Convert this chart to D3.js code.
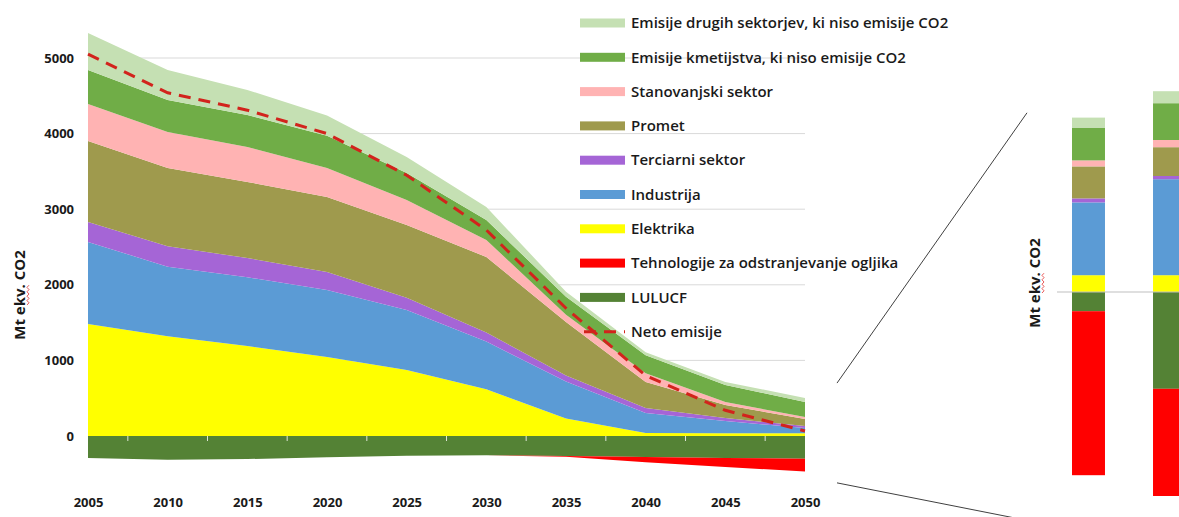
<!DOCTYPE html>
<html>
<head>
<meta charset="utf-8">
<script src="https://cdn.jsdelivr.net/npm/d3@7/dist/d3.min.js"></script>
<style>
  body { margin: 0; background: #fff; }
  svg { display: block; font-family: "Open Sans", sans-serif; }
</style>
</head>
<body>
<svg width="1179" height="517"></svg>
<script>
// values, Mt ekv. CO2
var years = [2005, 2010, 2015, 2020, 2025, 2030, 2035, 2040, 2045, 2050];
var elektrika    = [1480, 1320, 1190, 1045, 873, 620, 230, 40, 35, 35];
var industrija   = [1086, 920, 910, 885, 794, 630, 490, 264, 163, 71];
var terciarni    = [265, 270, 254, 240, 163, 120, 80, 66, 40, 26];
var promet       = [1071, 1035, 1006, 991, 960, 998, 708, 344, 172, 93];
var stanovanjski = [489, 476, 463, 384, 332, 225, 95, 115, 40, 26];
var kmetijstvo   = [450, 423, 423, 425, 357, 264, 239, 238, 225, 199];
var drugi        = [489, 397, 331, 270, 211, 172, 66, 40, 39, 53];
var lulucf       = [-290, -315, -305, -280, -260, -255, -265, -278, -290, -300];
var odstranjevanje = [0, 0, 0, 0, 0, 0, -8, -70, -120, -170];
var neto         = [5050, 4540, 4310, 4000, 3450, 2725, 1690, 800, 340, 66];

var yTicks = [0, 1000, 2000, 3000, 4000, 5000];

// zoomed-in bars on the right (two bars, no axis shown)
var insetBars = ["A", "B"];
var insetElektrika = [42, 42];
var insetIndustrija = [182, 240];
var insetTerciarni = [10, 8];
var insetPromet = [80, 72];
var insetStanovanjski = [15, 18];
var insetKmetijstvo = [82, 92];
var insetDrugi = [25, 30];
var insetLulucf = [-48, -242];
var insetOdstranjevanje = [-410, -268];

var posKeys = ["elektrika", "industrija", "terciarni", "promet", "stanovanjski", "kmetijstvo", "drugi"];
var negKeys = ["lulucf", "odstranjevanje"];
var colors = {
  drugi: "#c5e0b3",
  kmetijstvo: "#70ad47",
  stanovanjski: "#ffb3b3",
  promet: "#9f9a4d",
  terciarni: "#a565d6",
  industrija: "#5b9bd5",
  elektrika: "#ffff00",
  odstranjevanje: "#ff0000",
  lulucf: "#548235"
};
var legendKeys = ["drugi", "kmetijstvo", "stanovanjski", "promet", "terciarni", "industrija", "elektrika", "odstranjevanje", "lulucf", "neto"];
var legendLabels = [
  "Emisije drugih sektorjev, ki niso emisije CO2",
  "Emisije kmetijstva, ki niso emisije CO2",
  "Stanovanjski sektor",
  "Promet",
  "Terciarni sektor",
  "Industrija",
  "Elektrika",
  "Tehnologije za odstranjevanje ogljika",
  "LULUCF",
  "Neto emisije"
];

var data = years.map(function(yr, i) {
  return {
    year: yr,
    elektrika: elektrika[i], industrija: industrija[i], terciarni: terciarni[i],
    promet: promet[i], stanovanjski: stanovanjski[i], kmetijstvo: kmetijstvo[i],
    drugi: drugi[i], lulucf: lulucf[i], odstranjevanje: odstranjevanje[i], neto: neto[i]
  };
});

var svg = d3.select("svg");

var x = d3.scalePoint()
    .domain(years)
    .range([88, 805]);

var y = d3.scaleLinear()
    .domain([0, 5000])
    .range([436, 58]);

// gridlines
svg.append("g")
    .selectAll("line")
    .data(yTicks.slice(1))
    .enter().append("line")
    .attr("x1", x(2005))
    .attr("x2", x(2050))
    .attr("y1", function(d) { return y(d); })
    .attr("y2", function(d) { return y(d); })
    .attr("stroke", "#d9d9d9")
    .attr("stroke-width", 1);

var area = d3.area()
    .x(function(d) { return x(d.data.year); })
    .y0(function(d) { return y(d[0]); })
    .y1(function(d) { return y(d[1]); });

var posSeries = d3.stack().keys(posKeys)(data);
var negSeries = d3.stack().keys(negKeys)(data);

svg.append("g")
    .selectAll("path")
    .data(negSeries.concat(posSeries))
    .enter().append("path")
    .attr("fill", function(d) { return colors[d.key]; })
    .attr("d", area);

// small tick marks between categories on the zero line
var mids = years.slice(1).map(function(yr, i) { return (x(years[i]) + x(yr)) / 2; });
svg.append("g")
    .selectAll("line")
    .data(mids)
    .enter().append("line")
    .attr("x1", function(d) { return d; })
    .attr("x2", function(d) { return d; })
    .attr("y1", y(0))
    .attr("y2", y(0) + 5)
    .attr("stroke", "#dfe6d6")
    .attr("stroke-width", 1);

// net emissions
var line = d3.line()
    .x(function(d) { return x(d.year); })
    .y(function(d) { return y(d.neto); });

svg.append("path")
    .datum(data)
    .attr("fill", "none")
    .attr("stroke", "#d2231c")
    .attr("stroke-width", 3)
    .attr("stroke-dasharray", "12,8")
    .attr("d", line);

// axes
var yAxis = svg.append("g")
    .attr("transform", "translate(" + x(2005) + ",0)")
    .call(d3.axisLeft(y).tickValues(yTicks).tickSize(0).tickPadding(14).tickFormat(d3.format("d")));
yAxis.select(".domain").remove();

var xAxis = svg.append("g")
    .attr("transform", "translate(0,490)")
    .call(d3.axisBottom(x).tickSize(0).tickPadding(8).tickFormat(d3.format("d")));
xAxis.select(".domain").remove();

svg.selectAll(".tick text")
    .attr("font-family", "'Open Sans', sans-serif")
    .attr("font-size", 13)
    .attr("font-weight", 700)
    .attr("fill", "#1a1a1a");

// y title with the spell-check squiggle under "ekv."
function yTitle(cx, cy) {
  svg.append("text")
      .attr("transform", "translate(" + cx + "," + cy + ") rotate(-90)")
      .attr("text-anchor", "middle")
      .attr("font-size", 15)
      .attr("font-weight", 700)
      .attr("fill", "#1a1a1a")
      .text("Mt ekv. CO2");
  var squiggle = d3.range(0, 10).map(function(i) {
    return [cx + 2 + (i % 2 ? 2 : 0), cy + 10 - i * 2.2];
  });
  svg.append("path")
      .attr("d", d3.line()(squiggle))
      .attr("fill", "none")
      .attr("stroke", "#e03030")
      .attr("stroke-width", 0.8);
}
yTitle(25, 295);

// legend
var legend = svg.append("g")
    .attr("transform", "translate(580,23)");

var item = legend.selectAll("g")
    .data(legendKeys)
    .enter().append("g")
    .attr("transform", function(d, i) { return "translate(0," + (i * 34.3) + ")"; });

item.filter(function(d) { return d !== "neto"; })
    .append("rect")
    .attr("x", 0)
    .attr("y", -4.5)
    .attr("width", 45)
    .attr("height", 9)
    .attr("fill", function(d) { return colors[d]; });

item.filter(function(d) { return d === "neto"; })
    .append("line")
    .attr("x1", 0)
    .attr("x2", 45)
    .attr("stroke", "#d2231c")
    .attr("stroke-width", 3)
    .attr("stroke-dasharray", "12,8")
    .attr("stroke-dashoffset", -4);

item.append("text")
    .attr("x", 51)
    .attr("dy", "0.35em")
    .attr("font-size", 15)
    .attr("font-weight", 600)
    .attr("fill", "#1a1a1a")
    .text(function(d, i) { return legendLabels[i]; });

// inset bars
var insetData = insetBars.map(function(b, i) {
  return {
    bar: b,
    elektrika: insetElektrika[i], industrija: insetIndustrija[i], terciarni: insetTerciarni[i],
    promet: insetPromet[i], stanovanjski: insetStanovanjski[i], kmetijstvo: insetKmetijstvo[i],
    drugi: insetDrugi[i], lulucf: insetLulucf[i], odstranjevanje: insetOdstranjevanje[i]
  };
});

var ix = d3.scaleBand()
    .domain(insetBars)
    .range([1047.7, 1210.3])
    .paddingInner(0.593)
    .paddingOuter(0.3);

var iy = d3.scaleLinear()
    .domain([-600, 500])
    .range([532, 92]);

var insetSeries = d3.stack().keys(negKeys)(insetData)
    .concat(d3.stack().keys(posKeys)(insetData));

svg.append("g")
    .selectAll("g")
    .data(insetSeries)
    .enter().append("g")
    .attr("fill", function(d) { return colors[d.key]; })
    .selectAll("rect")
    .data(function(d) { return d; })
    .enter().append("rect")
    .attr("x", function(d) { return ix(d.data.bar); })
    .attr("width", ix.bandwidth())
    .attr("y", function(d) { return iy(Math.max(d[0], d[1])); })
    .attr("height", function(d) { return Math.abs(iy(d[0]) - iy(d[1])); });

svg.append("line")
    .attr("x1", 1057)
    .attr("x2", 1179)
    .attr("y1", iy(0))
    .attr("y2", iy(0))
    .attr("stroke", "#bfbfbf")
    .attr("stroke-width", 1);

yTitle(1040, 283);

// zoom lines from the end of the main chart to the inset
svg.append("g")
    .attr("stroke", "#404040")
    .attr("stroke-width", 1)
    .selectAll("line")
    .data([[x(2050) + 32, y(700), 1027, iy(448)], [x(2050) + 32, y(-620), 1020, 519]])
    .enter().append("line")
    .attr("x1", function(d) { return d[0]; })
    .attr("y1", function(d) { return d[1]; })
    .attr("x2", function(d) { return d[2]; })
    .attr("y2", function(d) { return d[3]; });
</script>
</body>
</html>
